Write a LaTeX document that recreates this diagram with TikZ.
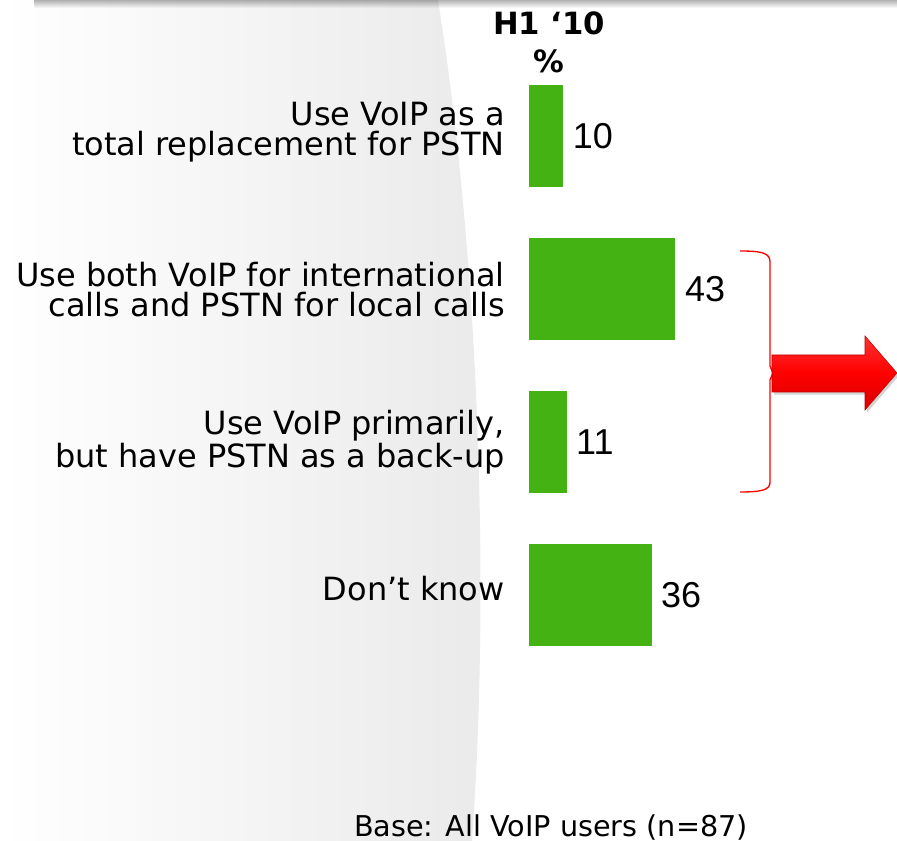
\documentclass[tikz,border=0pt]{standalone}
\usepackage{fontspec}
\setmainfont{DejaVu Sans}
\newfontfamily\numfont{Liberation Sans}
\usetikzlibrary{positioning,shadows}
\definecolor{bargreen}{RGB}{68,178,18}
\definecolor{panelgray}{RGB}{234,234,234}
\tikzset{
  bar/.style={fill=bargreen, minimum height=76.5pt, inner sep=0pt, anchor=west},
  lbl/.style={align=right, font=\fontsize{24}{22.5}\selectfont, inner sep=0pt},
  val/.style={font=\numfont\fontsize{27}{27}\selectfont, inner sep=0pt},
  hdr/.style={font=\bfseries\fontsize{23}{23}\selectfont, inner sep=0pt, anchor=base},
}
\begin{document}
\begin{tikzpicture}[x=0.75pt,y=-0.75pt]
    \def\unit{2.55pt} % bar length for 1 %
    \useasboundingbox (0,0) rectangle (897,841);
    % grey panel behind the labels
    \shade[left color=white, right color=panelgray] (0,0) -- (438,0) .. controls (475,230) and (492,560) .. (472,841) -- (0,841) -- cycle;
    % top rule and its shadow
    \foreach \k [evaluate=\k as \op using 0.3*(1-\k/8)] in {0,...,7}
        \draw[black, opacity=\op] (34,\k+0.5) -- (897,\k+0.5);
    % bars and values
    \foreach \i/\v/\yc in {1/10/136.5, 2/43/289.3, 3/11/442.1, 4/36/594.9}{
        \node[bar, minimum width=\v*\unit] (bar\i) at (529,\yc) {};
        \node[val, right=6.75pt of bar\i] (val\i) {\v};
    }
    \node[lbl, left=18pt of bar1, yshift=3pt] (lbl1) {Use VoIP as a\\total replacement for PSTN};
    \node[lbl, left=18pt of bar2] (lbl2) {Use both VoIP for international\\calls and PSTN for local calls};
    \node[lbl, left=18pt of bar3] (lbl3) {Use VoIP primarily,\\but have PSTN as a back-up};
    \node[lbl, left=18pt of bar4, yshift=5pt] (lbl4) {Don’t know};
    \node[hdr] (hdr) at (549,35) {H1 `10};
    \node[hdr] (pct) at (549,73) {\%};
    % bracket over bars 2 and 3
    \draw[red, line width=1pt] (740,251) .. controls (762,251) and (770,253) .. (770,262) -- (770,366) -- (773,373) -- (770,380) -- (770,482) .. controls (770,490) and (762,492) .. (740,492);
    % block arrow
    \path[draw=red!75!black, line width=0.4pt, top color=red!80!white, bottom color=red!85!black, middle color=red,
        drop shadow={opacity=0.35, shadow xshift=1.5pt, shadow yshift=-2pt}]
        (772,355) -- (865,355) -- (865,336) -- (897,373) -- (865,410) -- (865,392) -- (772,392) -- cycle;
    \node[font=\fontsize{21.5}{21.5}\selectfont, inner sep=0pt, anchor=base east] (base) at (748,836) {Base: All VoIP users (n=87)};
\end{tikzpicture}
\end{document}
